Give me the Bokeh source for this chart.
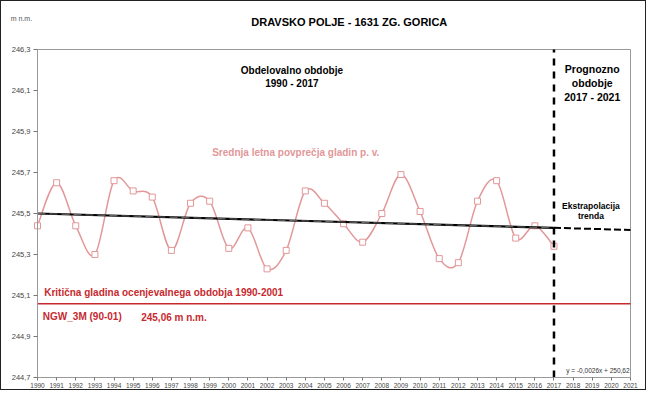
from bokeh.plotting import figure
from bokeh.models import Range1d, FixedTicker, CustomJSTickFormatter, Label
from bokeh.embed import file_html
from bokeh.resources import INLINE

# ---- data ----
years = [1990, 1991, 1992, 1993, 1994, 1995, 1996, 1997, 1998, 1999,
         2000, 2001, 2002, 2003, 2004, 2005, 2006, 2007, 2008, 2009,
         2010, 2011, 2012, 2013, 2014, 2015, 2016, 2017]
levels = [245.44, 245.65, 245.44, 245.30, 245.66, 245.61, 245.58, 245.32, 245.55, 245.56,
          245.33, 245.43, 245.23, 245.32, 245.61, 245.55, 245.45, 245.36, 245.50, 245.69,
          245.51, 245.28, 245.26, 245.56, 245.66, 245.38, 245.44, 245.34]
trend_years = [1990, 2017, 2021]
trend_levels = [245.50, 245.43, 245.42]
ngw_level = 245.06
split_year = 2017
x_ticks = [1990, 1991, 1992, 1993, 1994, 1995, 1996, 1997, 1998, 1999, 2000, 2001,
           2002, 2003, 2004, 2005, 2006, 2007, 2008, 2009, 2010, 2011, 2012, 2013,
           2014, 2015, 2016, 2017, 2018, 2019, 2020, 2021]
y_ticks = [244.7, 244.9, 245.1, 245.3, 245.5, 245.7, 245.9, 246.1, 246.3]
x_min, x_max = 1990, 2021
y_min, y_max = 244.7, 246.3

FONT = "Liberation Sans"
PINK = "#e29799"
RED = "#c62a30"
GRAY = "#9a9a9a"

W, H = 646, 390
LEFT_PAD, RIGHT_PAD = 36, 17
TOP_PAD, BOTTOM_PAD = 48, 14
plot_w = W - LEFT_PAD - RIGHT_PAD
plot_h = H - TOP_PAD - BOTTOM_PAD
x_left = x_min - (x_max - x_min) * LEFT_PAD / plot_w      # room left of the axis
x_right = x_max + (x_max - x_min) * RIGHT_PAD / plot_w    # room right of the plot area
y_top = y_max + (y_max - y_min) * TOP_PAD / plot_h       # room above for titles
y_bottom = y_min - (y_max - y_min) * BOTTOM_PAD / plot_h  # room below for year labels

p = figure(width=W, height=H, output_backend="svg", toolbar_location=None,
           x_range=Range1d(x_left, x_right), y_range=Range1d(y_bottom, y_top),
           min_border_left=0, min_border_right=0, min_border_top=0, min_border_bottom=0)
p.styles = {"border": "1px solid #222"}
p.xgrid.visible = False
p.ygrid.visible = False
p.outline_line_color = None
p.background_fill_color = "white"
p.border_fill_color = "white"

for ax in (p.xaxis[0], p.yaxis[0]):
    ax.axis_line_color = GRAY
    ax.major_tick_line_color = "#777777"
    ax.minor_tick_line_color = None
    ax.major_tick_in = 0
    ax.major_label_text_font = FONT
    ax.major_label_text_color = "#444444"
p.xaxis.ticker = FixedTicker(ticks=x_ticks)
p.xaxis.bounds = (x_min, x_max)
p.xaxis.fixed_location = y_min
p.xaxis.major_tick_out = 3
p.xaxis.major_label_text_font_size = "6.5px"
p.xaxis.major_label_standoff = 2
p.yaxis.ticker = FixedTicker(ticks=y_ticks)
p.yaxis.bounds = (y_min, y_max)
p.yaxis.fixed_location = x_min
p.yaxis.major_tick_out = 4
p.yaxis.major_label_text_font_size = "7.5px"
p.yaxis.major_label_standoff = 3
p.yaxis.formatter = CustomJSTickFormatter(code="return tick.toFixed(1).replace('.', ',');")

# plot-area frame (top and right edges)
p.segment(x0=[x_min, x_max], y0=[y_max, y_min], x1=[x_max, x_max], y1=[y_max, y_max],
          line_color=GRAY, line_width=1)

# red critical level
p.segment(x0=[x_min], y0=[ngw_level], x1=[x_max], y1=[ngw_level], line_color=RED, line_width=1.5)

# smooth curve (Catmull-Rom style bezier, like spreadsheet smoothing)
n = len(years)
x0s, y0s, x1s, y1s, cx0s, cy0s, cx1s, cy1s = [], [], [], [], [], [], [], []
for i in range(n - 1):
    a = max(i - 1, 0)
    d = min(i + 2, n - 1)
    x0s.append(years[i]); y0s.append(levels[i])
    x1s.append(years[i + 1]); y1s.append(levels[i + 1])
    cx0s.append(years[i] + (years[i + 1] - years[a]) / 6)
    cy0s.append(levels[i] + (levels[i + 1] - levels[a]) / 6)
    cx1s.append(years[i + 1] - (years[d] - years[i]) / 6)
    cy1s.append(levels[i + 1] - (levels[d] - levels[i]) / 6)
p.bezier(x0=x0s, y0=y0s, x1=x1s, y1=y1s, cx0=cx0s, cy0=cy0s, cx1=cx1s, cy1=cy1s,
         line_color=PINK, line_width=1.5)
p.scatter(years, levels, marker="square", size=6, fill_color="white",
          line_color=PINK, line_width=1)

# trend
p.line(trend_years[:2], trend_levels[:2], line_color="black", line_width=2.2)
p.line(trend_years[:2], trend_levels[:2], line_color="#888888", line_width=0.8, line_dash="8 4")
p.line(trend_years[1:], trend_levels[1:], line_color="black", line_width=2, line_dash="7 3")

# vertical split
p.segment(x0=[split_year], y0=[y_min], x1=[split_year], y1=[y_max], line_color="black",
          line_width=2.5, line_dash="7 6")

def lab(x, y, text, size, color="black", style="bold", align="left", lh=1.2):
    p.add_layout(Label(x=x, y=y, text=text, text_font=FONT, text_font_size=size,
                       text_color=color, text_font_style=style, text_align=align,
                       text_baseline="middle", text_line_height=lh))

lab(2006.3, 246.432, "DRAVSKO POLJE - 1631 ZG. GORICA", "11px", align="center")
lab(1988.6, 246.452, "m n.m.", "7px", color="#555555", style="normal")
lab(2003.3, 246.166, "Obdelovalno obdobje\n1990 - 2017", "10px", align="center", lh=1.2)
lab(2019.0, 246.137, "Prognozno\nobdobje\n2017 - 2021", "10.5px", align="center", lh=1.14)
lab(2003.5, 245.798, "Srednja letna povprečja gladin p. v.", "10px", color=PINK, align="center")
lab(2018.93, 245.512, "Ekstrapolacija\ntrenda", "8.5px", align="center", lh=1.06)
lab(1990.35, 245.117, "Kritična gladina  ocenjevalnega obdobja 1990-2001", "10px", color=RED)
lab(1990.28, 244.998, "NGW_3M (90-01)", "10px", color=RED)
lab(1995.42, 244.992, "245,06 m n.m.", "10px", color=RED)
lab(2020.95, 244.732, "y = -0,0026x + 250,62", "6.5px", color="#333333", style="normal", align="right")

open("out.html", "w").write(file_html(p, INLINE))
